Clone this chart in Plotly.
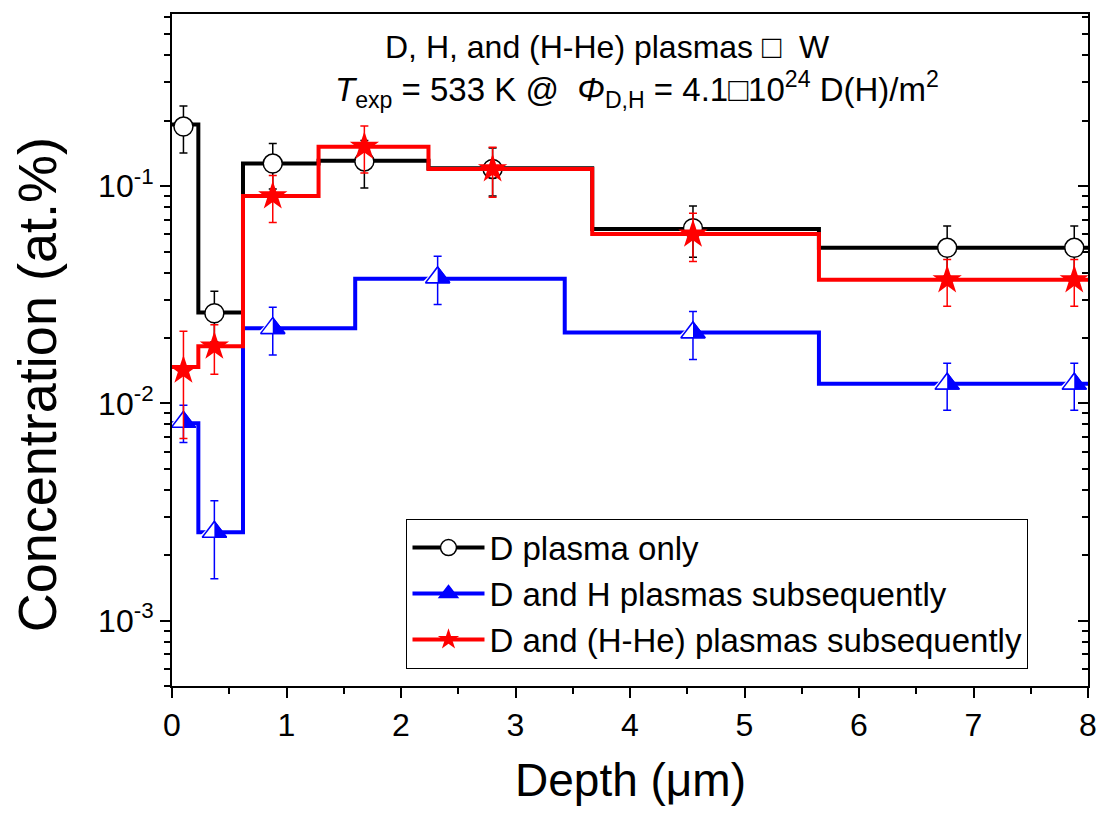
import math
import plotly.graph_objects as go

# ---------------- data ----------------
# Step profiles: depth edges (um) and concentration level (at.%) per layer
d_edges = [0, 0.23, 0.62, 1.28, 2.24, 3.67, 5.65, 8.0]
d_levels = [0.192, 0.0262, 0.127, 0.131, 0.121, 0.0635, 0.052]
h_edges = [0, 0.23, 0.62, 1.60, 3.43, 5.65, 8.0]
h_levels = [0.0081, 0.00255, 0.0222, 0.0375, 0.0212, 0.0123]
he_edges = [0, 0.23, 0.62, 1.28, 2.24, 3.67, 5.65, 8.0]
he_levels = [0.0147, 0.0183, 0.090, 0.152, 0.120, 0.0602, 0.0371]

# Measured points with error bars
d_x = [0.1, 0.37, 0.88, 1.68, 2.8, 4.55, 6.77, 7.88]
d_y = [0.188, 0.026, 0.127, 0.130, 0.120, 0.064, 0.052, 0.052]
d_err = [0.046, 0.0068, 0.030, 0.032, 0.030, 0.017, 0.0135, 0.0135]

h_x = [0.1, 0.37, 0.88, 2.32, 4.55, 6.77, 7.88]
h_y = [0.0082, 0.00256, 0.0222, 0.038, 0.0212, 0.0123, 0.0123]
h_err = [0.0016, 0.0010, 0.0055, 0.0095, 0.0053, 0.0030, 0.0030]

he_x = [0.1, 0.37, 0.88, 1.68, 2.8, 4.55, 6.77, 7.88]
he_y = [0.0142, 0.0183, 0.090, 0.152, 0.120, 0.060, 0.037, 0.037]
he_err = [0.0073, 0.0047, 0.022, 0.037, 0.031, 0.015, 0.009, 0.009]

names = ["D plasma only", "D and H plasmas subsequently", "D and (H-He) plasmas subsequently"]

x_ticks = [0, 1, 2, 3, 4, 5, 6, 7, 8]
y_ticks = [1e-3, 1e-2, 1e-1]
y_tick_text = ["10<sup>-3</sup>", "10<sup>-2</sup>", "10<sup>-1</sup>"]

title1 = "D, H, and (H-He) plasmas \u25a1  W"
title2 = ("<i>T</i><sub>exp</sub> = 533 K @  <i>\u03a6</i><sub>D,H</sub> = 4.1\u25a110"
          "<sup>24</sup> D(H)/m<sup>2</sup>")
x_title = "Depth (\u03bcm)"
y_title = "Concentration (at.%)"

Y_RANGE = [math.log10(5e-4), math.log10(0.62)]
minor_y = [k * 10.0 ** e for e in range(-4, 0) for k in range(2, 10)]

FONT = "Arial, Liberation Sans, sans-serif"
BLACK, BLUE, RED = "#000000", "#0000FF", "#FF0000"
TRI = 21  # triangle marker size


def gapped(vals):
    """Separate points with None so a lines+markers trace draws no segments."""
    out = []
    for v in vals:
        out += [v, None]
    return out[:-1]


def step_trace(edges, levels, color):
    return go.Scatter(x=edges, y=levels + [levels[-1]], mode="lines",
                      line=dict(color=color, width=4, shape="hv"),
                      showlegend=False, hoverinfo="skip")


def err(arr, color):
    return dict(type="data", array=gapped(arr), symmetric=True, color=color,
                thickness=1.5, width=4, visible=True)


fig = go.Figure()

# D plasma only (black, open circles)
fig.add_trace(step_trace(d_edges, d_levels, BLACK))
fig.add_trace(go.Scatter(x=gapped(d_x), y=gapped(d_y), mode="lines+markers", name=names[0],
                         line=dict(color=BLACK, width=4),
                         marker=dict(symbol="circle", size=19, color="white",
                                     line=dict(color=BLACK, width=1.5)),
                         error_y=err(d_err, BLACK)))

# D and H (blue, half-filled triangles)
fig.add_trace(step_trace(h_edges, h_levels, BLUE))
fig.add_trace(go.Scatter(x=gapped(h_x), y=gapped(h_y), mode="lines+markers", name=names[1],
                         line=dict(color=BLUE, width=4),
                         marker=dict(symbol="triangle-up", size=TRI, color=BLUE,
                                     line=dict(color=BLUE, width=1.5)),
                         error_y=err(h_err, BLUE)))
# white cover over the left half of each triangle
fig.add_trace(go.Scatter(x=h_x, y=h_y, mode="markers", showlegend=False, hoverinfo="skip",
                         marker=dict(symbol="triangle-ne", size=TRI * 0.8333, color="white",
                                     angle=90, standoff=TRI * 0.25, line=dict(width=0))))
# outline
fig.add_trace(go.Scatter(x=h_x, y=h_y, mode="markers", showlegend=False, hoverinfo="skip",
                         marker=dict(symbol="triangle-up-open", size=TRI, color=BLUE,
                                     line=dict(color=BLUE, width=1.5))))

# D and (H-He) (red, stars)
fig.add_trace(step_trace(he_edges, he_levels, RED))
fig.add_trace(go.Scatter(x=gapped(he_x), y=gapped(he_y), mode="lines+markers", name=names[2],
                         line=dict(color=RED, width=4),
                         marker=dict(symbol="star", size=22, color=RED, line=dict(width=0)),
                         error_y=err(he_err, RED)))

# empty trace to carry the right-hand (inward-tick) axis
fig.add_trace(go.Scatter(x=[], y=[], yaxis="y2", showlegend=False, hoverinfo="skip"))

tick_style = dict(tickcolor=BLACK, tickwidth=2)

fig.update_layout(
    width=1109, height=821,
    margin=dict(l=172, r=15, t=12, b=135),
    paper_bgcolor="white", plot_bgcolor="white",
    font=dict(family=FONT, color=BLACK),
    legend=dict(x=0.256, y=0.249, xanchor="left", yanchor="top",
                bordercolor=BLACK, borderwidth=1, bgcolor="white",
                font=dict(size=33, family=FONT, color=BLACK), itemwidth=72,
                tracegroupgap=0),
    xaxis=dict(range=[0, 8], tickmode="array", tickvals=x_ticks, ticks="outside", ticklen=10,
               showline=True, linewidth=2, linecolor=BLACK, mirror=True,
               showgrid=False, zeroline=False, tickfont=dict(size=32),
               minor=dict(dtick=0.5, ticks="outside", ticklen=6, showgrid=False, **tick_style),
               **tick_style),
    yaxis=dict(type="log", range=Y_RANGE, tickmode="array", tickvals=y_ticks,
               ticktext=y_tick_text, ticks="outside", ticklen=10,
               showline=True, linewidth=2, linecolor=BLACK, mirror=True,
               showgrid=False, zeroline=False, tickfont=dict(size=32),
               minor=dict(tickmode="array", tickvals=minor_y, ticks="outside", ticklen=6,
                          showgrid=False, **tick_style),
               **tick_style),
    yaxis2=dict(type="log", range=Y_RANGE, overlaying="y", side="right", anchor="x",
                tickmode="array", tickvals=y_ticks, showticklabels=False,
                ticks="inside", ticklen=10, showline=False, showgrid=False, zeroline=False,
                minor=dict(tickmode="array", tickvals=minor_y, ticks="inside", ticklen=6,
                           showgrid=False, **tick_style),
                **tick_style),
    annotations=[
        dict(text=title1, xref="paper", yref="paper", x=0.475, y=0.951,
             xanchor="center", yanchor="middle", showarrow=False, font=dict(size=32)),
        dict(text=title2, xref="paper", yref="paper", x=0.508, y=0.887,
             xanchor="center", yanchor="middle", showarrow=False, font=dict(size=33)),
        dict(text=x_title, xref="paper", yref="paper", x=0.5, y=-0.1395,
             xanchor="center", yanchor="middle", showarrow=False, font=dict(size=46)),
        dict(text=y_title, xref="paper", yref="paper", x=-0.147, y=0.448,
             xanchor="center", yanchor="middle", textangle=-90, showarrow=False,
             font=dict(size=54)),
    ],
)

fig.write_html("out.html", config={"displayModeBar": False},
               post_script="document.body.style.margin='0px';")
